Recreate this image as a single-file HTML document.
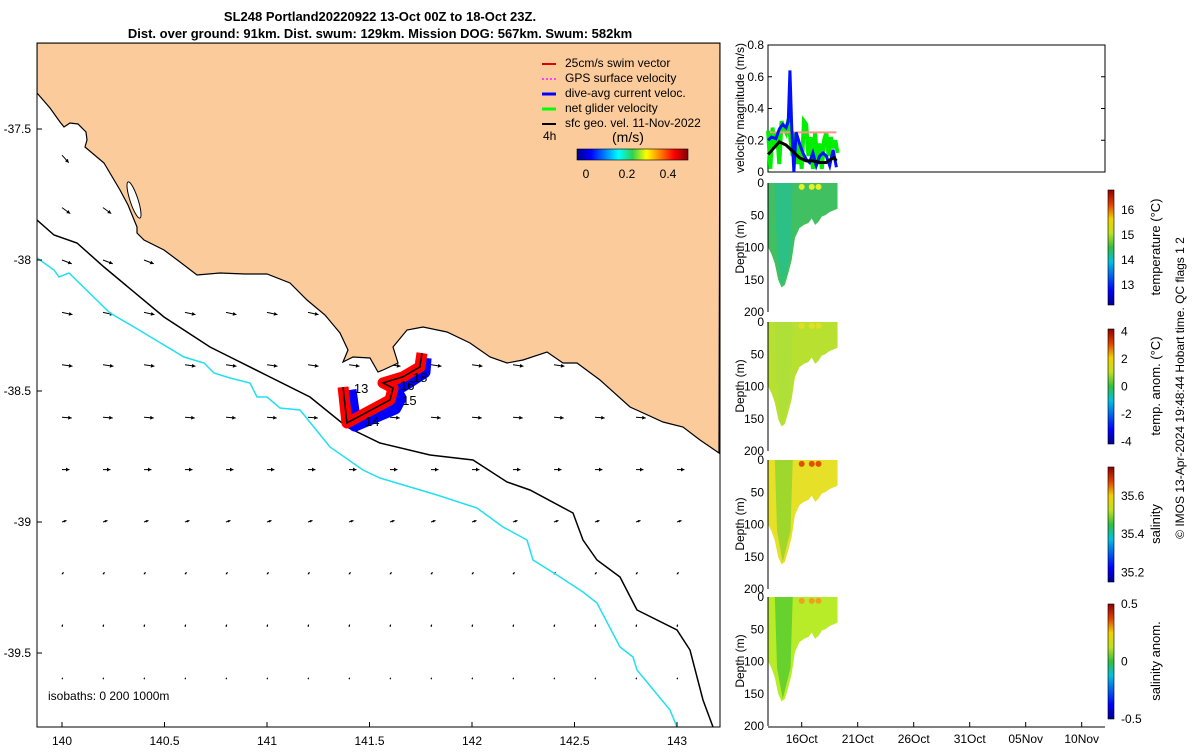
<!DOCTYPE html>
<html><head><meta charset="utf-8"><style>
body{margin:0;background:#fff;width:1200px;height:750px;overflow:hidden;font-family:"Liberation Sans",sans-serif}
svg text{font-family:"Liberation Sans",sans-serif}
</style></head><body>
<svg id="s" width="1200" height="750" xmlns="http://www.w3.org/2000/svg">
<defs>
<linearGradient id="jetH" x1="0" x2="1" y1="0" y2="0">
<stop offset="0" stop-color="#00008f"/><stop offset="0.125" stop-color="#0000ff"/><stop offset="0.375" stop-color="#00ffff"/><stop offset="0.5" stop-color="#30d050"/><stop offset="0.625" stop-color="#ffff00"/><stop offset="0.875" stop-color="#ff0000"/><stop offset="1" stop-color="#800000"/></linearGradient>
<linearGradient id="jetV" x1="0" x2="0" y1="1" y2="0">
<stop offset="0" stop-color="#00008f"/><stop offset="0.125" stop-color="#0000ff"/><stop offset="0.375" stop-color="#00c0e0"/><stop offset="0.5" stop-color="#30c040"/><stop offset="0.625" stop-color="#c0e020"/><stop offset="0.75" stop-color="#f0d000"/><stop offset="0.875" stop-color="#e04000"/><stop offset="1" stop-color="#900000"/></linearGradient>
<clipPath id="mapclip"><rect x="37" y="43" width="683" height="684"/></clipPath>
</defs>
<text x="380" y="21" font-size="13" font-weight="bold" text-anchor="middle">SL248 Portland20220922 13-Oct 00Z to 18-Oct 23Z.</text>
<text x="380" y="38" font-size="13" font-weight="bold" text-anchor="middle">Dist. over ground: 91km. Dist. swum: 129km. Mission DOG: 567km. Swum: 582km</text>
<g id="map" clip-path="url(#mapclip)">
<rect x="37" y="43" width="683" height="684" fill="#fff"/>
<g id="arrows"></g>
<path fill="#fbcb9b" stroke="#000" stroke-width="1.2" d="M37,43 L37,93 L50,108 L60,122 L64,127 L70,123 L78,124 L86,132 L87,140 L85,147 L104,163 L120,190 L128,205 L137,227 L137,233 L144,240 L164,250 L180,262 L197,275 L220,273 L245,274 L267,274 L290,283 L307,300 L325,315 L340,333 L348,350 L343,362 L353,357 L370,358 L378,372 L383,370 L398,363 L393,347 L407,330 L423,327 L447,332 L470,343 L490,357 L507,363 L523,360 L547,352 L563,363 L577,363 L600,380 L630,407 L663,422 L683,427 L700,440 L719,453 L720,43 Z"/>
<ellipse cx="134" cy="200" rx="4" ry="19" transform="rotate(-18 134 200)" fill="#fff" stroke="#000" stroke-width="1"/>
<polyline fill="none" stroke="#000" stroke-width="1.5" points="37,220 54,235 77,243 104,267 164,317 210,347 230,357 270,377 310,397 347,427 380,443 430,455 473,460 507,482 530,490 573,513 583,540 597,560 620,577 637,610 677,630 690,650 703,700 713,727"/>
<polyline fill="none" stroke="#20e0f0" stroke-width="1.5" points="37,258 54,270 59,277 69,273 110,313 134,327 184,357 204,363 214,373 230,378 250,383 257,397 267,397 280,408 300,410 330,447 363,470 380,478 437,495 477,508 503,527 527,540 533,560 557,575 583,592 597,603 620,647 633,657 637,670 670,710 677,727"/>
<g id="track"></g>
<text x="48" y="700" font-size="12">isobaths: 0   200  1000m</text>
</g>
<rect x="37" y="43" width="683" height="684" fill="none" stroke="#000" stroke-width="1"/>
<g id="maplabels" font-size="12"></g>
<g font-size="12">
<line x1="542" y1="64" x2="556" y2="64" stroke="#e00000" stroke-width="2"/><text x="565" y="67">25cm/s swim vector</text>
<line x1="542" y1="79" x2="556" y2="79" stroke="#ff40ff" stroke-width="2" stroke-dasharray="2,2"/><text x="565" y="82">GPS surface velocity</text>
<line x1="542" y1="94" x2="556" y2="94" stroke="#0000ff" stroke-width="3"/><text x="565" y="97">dive-avg current veloc.</text>
<line x1="542" y1="109" x2="556" y2="109" stroke="#00ff00" stroke-width="3"/><text x="565" y="112">net glider velocity</text>
<line x1="542" y1="124" x2="556" y2="124" stroke="#000" stroke-width="2"/><text x="565" y="127">sfc geo. vel. 11-Nov-2022</text>
<text x="543" y="140">4h</text><text x="612" y="142" font-size="14">(m/s)</text>
<rect x="577" y="149" width="111" height="11" fill="url(#jetH)" stroke="#000" stroke-width="0.6"/>
<text x="586" y="178" text-anchor="middle">0</text><text x="627" y="178" text-anchor="middle">0.2</text><text x="668" y="178" text-anchor="middle">0.4</text>
</g>
<g id="right"></g>
<text transform="translate(1184,388) rotate(-90)" font-size="12" text-anchor="middle">© IMOS 13-Apr-2024 19:48:44 Hobart time. QC flags 1  2</text>
</svg>
<script>
const NS='http://www.w3.org/2000/svg';
function mk(t,a,p){const e=document.createElementNS(NS,t);for(const k in a)e.setAttribute(k,a[k]);(p||document.getElementById('s')).appendChild(e);return e;}
// ---- map data ----
const lonTicks=[140,140.5,141,141.5,142,142.5,143];
const latTicks=[-37.5,-38,-38.5,-39,-39.5];
const arrowLons=[140,140.2,140.4,140.6,140.8,141,141.2,141.4,141.6,141.8,142,142.2,142.4,142.6,142.8,143];
const arrowLats=[-37.6,-37.8,-38,-38.2,-38.4,-38.6,-38.8,-39,-39.2,-39.4,-39.6,-39.8];
const arrowU=[0.09,0.11,0.13,0.14,0.14,0.13,0.1,0.06,0.02,0.01,0.01,0.01];
const arrowV=[-0.1,-0.08,-0.05,-0.03,-0.02,-0.01,0,0.02,0.03,0.03,0.02,0.02];
const trackRedLon=[141.756,141.746,141.663,141.566,141.615,141.600,141.390,141.371];
const trackRedLat=[-38.355,-38.408,-38.446,-38.469,-38.489,-38.534,-38.622,-38.485];
const trackBlueLon=[141.771,141.766,141.683,141.624,141.649,141.624,141.429,141.405];
const trackBlueLat=[-38.374,-38.427,-38.469,-38.496,-38.527,-38.565,-38.630,-38.496];
const dayLabels=['13','14','15','16','18'];
const dayLabelLon=[141.424,141.478,141.659,141.649,141.712];
const dayLabelLat=[-38.508,-38.634,-38.553,-38.496,-38.466];
const lonX=v=>62+(v-140)*205, latY=v=>129+(-37.5-v)*262;
const ml=document.getElementById('maplabels');
lonTicks.forEach(v=>{const t=mk('text',{x:lonX(v),y:745,'text-anchor':'middle'},ml);t.textContent=v;


mk('line',{x1:lonX(v),y1:727,x2:lonX(v),y2:722,stroke:'#000'},ml);});
latTicks.forEach(v=>{const t=mk('text',{x:31,y:latY(v)+4,'text-anchor':'end'},ml);t.textContent=v;


mk('line',{x1:37,y1:latY(v),x2:42,y2:latY(v),stroke:'#000'},ml);});
const ag=document.getElementById('arrows');
arrowLats.forEach((la,i)=>arrowLons.forEach(lo=>{
 const x=lonX(lo),y=latY(la),dx=arrowU[i]*75,dy=-arrowV[i]*75;
 const len=Math.hypot(dx,dy),hs=Math.min(4,len*0.4+1);
 const l=mk('line',{x1:x,y1:y,x2:x+dx,y2:y+dy,stroke:'#000','stroke-width':1},ag);
 
 
 const a=Math.atan2(dy,dx),hx=x+dx,hy=y+dy;
 mk('polygon',{points:`${hx},${hy} ${hx-hs*Math.cos(a-0.5)},${hy-hs*Math.sin(a-0.5)} ${hx-hs*Math.cos(a+0.5)},${hy-hs*Math.sin(a+0.5)}`,fill:'#000'},ag);
}));
const tg=document.getElementById('track');
const pr=trackRedLon.map((v,i)=>lonX(v)+','+latY(trackRedLat[i])).join(' ');
const pb=trackBlueLon.map((v,i)=>lonX(v)+','+latY(trackBlueLat[i])).join(' ');
let e=mk('polyline',{points:pb,fill:'none',stroke:'#0000ff','stroke-width':13,'stroke-linejoin':'round'},tg);


e=mk('polyline',{points:pr,fill:'none',stroke:'#ff0000','stroke-width':11,'stroke-linejoin':'round'},tg);


e=mk('polyline',{points:pr,fill:'none',stroke:'#000','stroke-width':1.5},tg);


dayLabels.forEach((d,i)=>{const t=mk('text',{x:lonX(dayLabelLon[i]),y:latY(dayLabelLat[i]),'font-size':13},tg);t.textContent=d;

});
// ---- right panels ----
const R=document.getElementById('right');
const dayX=d=>801.7+(d-16)*11.2;
const timeTicks=[16,21,26,31,36,41];
const timeTickLabels=['16Oct','21Oct','26Oct','31Oct','05Nov','10Nov'];
const velTicks=[0,0.2,0.4,0.6,0.8];
const blackDays=[13.0,13.5,14.0,14.6,15.2,15.8,16.4,17.0,17.6,18.2,18.6,18.9,19.1];
const blackVals=[0.11,0.15,0.19,0.17,0.13,0.09,0.07,0.07,0.06,0.06,0.08,0.09,0.07];
const blueDays=[13.0,13.3,13.7,14.0,14.3,14.6,14.8,14.95,15.1,15.3,15.5,15.8,16.1,16.4,16.7,17.0,17.3,17.6,17.9,18.2,18.5,18.8,19.1];
const blueVals=[0.2,0.22,0.21,0.27,0.3,0.28,0.32,0.64,0.3,0.0,0.25,0.18,0.12,0.08,0.06,0.12,0.04,0.1,0.12,0.1,0.04,0.14,0.03];
const greenDays=[13.0,13.2,13.4,13.6,13.8,14.0,14.2,14.4,14.6,14.8,15.0,15.2,15.4,15.6,15.8,16.0,16.2,16.4,16.6,16.8,17.0,17.2,17.4,17.6,17.8,18.0,18.2,18.4,18.6,18.8,19.0,19.2];
const greenVals=[0.26,0.02,0.28,0.15,0.25,0.05,0.32,0.28,0.25,0.33,0.2,0.1,0.25,0.05,0.18,0.02,0.32,0.3,0.1,0.22,0.02,0.25,0.05,0.18,0.02,0.2,0.25,0.1,0.22,0.15,0.2,0.12];
const redDays=[13.2,19.1];
const redVals=[0.25,0.25];
const vy=v=>172-v/0.8*127;
mk('rect',{x:768,y:45,width:337,height:127,fill:'#fff',stroke:'#000','stroke-width':1},R);
velTicks.forEach(v=>{const t=mk('text',{x:764,y:vy(v)+4,'text-anchor':'end','font-size':12},R);t.textContent=v;


mk('line',{x1:768,y1:vy(v),x2:772,y2:vy(v),stroke:'#000'},R);mk('line',{x1:1105,y1:vy(v),x2:1101,y2:vy(v),stroke:'#000'},R);});
let t=mk('text',{transform:'translate(744,108) rotate(-90)','text-anchor':'middle','font-size':12},R);t.textContent='velocity magnitude (m/s)';
function line(days,vals,col,w,name){const p=mk('polyline',{points:days.map((d,i)=>dayX(d)+','+vy(vals[i])).join(' '),fill:'none',stroke:col,'stroke-width':w},R);

}
line(greenDays,greenVals,'#00ee00',4,'net-glider-velocity-series');
line(redDays,redVals,'#ff9090',2,'swim-speed-series');
line(blueDays,blueVals,'#0010ff',3,'dive-avg-current-series');
line(blackDays,blackVals,'#000',3,'geostrophic-velocity-series');
// sections
const secDays=[13.0,13.3,13.6,13.9,14.2,14.5,14.8,15.1,15.4,15.8,16.2,16.6,16.9,17.2,17.5,17.8,18.1,18.5,19.2];
const secDepth=[100,110,125,150,162,158,140,120,85,70,65,62,55,65,60,52,50,45,40];
const depthTicks=[0,50,100,150,200];
const panels=[
 {top:183,name:'temperature',fill:'#40c060',fill2:'#20c0a0',spots:'#e8f020',cbTicks:[13,14,15,16],cbMin:12.2,cbMax:16.8,label:'temperature (°C)'},
 {top:322,name:'temp-anomaly',fill:'#b8e030',fill2:'#a8e040',spots:'#e0e020',cbTicks:[-4,-2,0,2,4],cbMin:-4.2,cbMax:4.2,label:'temp. anom. (°C)'},
 {top:460,name:'salinity',fill:'#e6e028',fill2:'#70d030',spots:'#e05000',cbTicks:[35.2,35.4,35.6],cbMin:35.15,cbMax:35.75,label:'salinity'},
 {top:597,name:'salinity-anomaly',fill:'#b8ec28',fill2:'#30c030',spots:'#f0a020',cbTicks:[-0.5,0,0.5],cbMin:-0.5,cbMax:0.5,label:'salinity anom.'}];
panels.forEach((P,k)=>{
 const h=129,dy=d=>P.top+d/200*h;
 const g=mk('g',{},R);
 let pts=secDays.map(d=>dayX(d)+','+P.top).join(' ')+' '+secDays.slice().reverse().map((d,i)=>dayX(d)+','+dy(secDepth[secDepth.length-1-i])).join(' ');
 mk('polygon',{points:pts,fill:P.fill},g);
 mk('polygon',{points:`${dayX(13.6)},${P.top} ${dayX(15.2)},${P.top} ${dayX(15.0)},${dy(110)} ${dayX(14.3)},${dy(158)} ${dayX(13.8)},${dy(110)}`,fill:P.fill2,opacity:0.6},g);
 [16.0,16.9,17.5].forEach(d=>mk('circle',{cx:dayX(d),cy:dy(6),r:3,fill:P.spots},g));
 mk('line',{x1:768,y1:P.top,x2:768,y2:P.top+h,stroke:'#000'},R);
 depthTicks.forEach(d=>{const tt=mk('text',{x:764,y:dy(d)+4,'text-anchor':'end','font-size':12},R);tt.textContent=d;
 
 });
 const yl=mk('text',{transform:`translate(744,${P.top+64}) rotate(-90)`,'text-anchor':'middle','font-size':12},R);yl.textContent='Depth (m)';
 const cbt=P.top+7,cbh=h-14;
 const cb=mk('rect',{x:1108,y:cbt,width:6,height:cbh,fill:'url(#jetV)',stroke:'#000','stroke-width':0.6},R);
 
 
 P.cbTicks.forEach(v=>{const yy=cbt+cbh*(P.cbMax-v)/(P.cbMax-P.cbMin);const tt=mk('text',{x:1121,y:yy+4,'font-size':12},R);tt.textContent=v;
 
 });
 const cl=mk('text',{transform:`translate(1160,${P.top+64}) rotate(-90)`,'text-anchor':'middle','font-size':13},R);cl.textContent=P.label;
});
mk('line',{x1:768,y1:727,x2:1105,y2:727,stroke:'#000'},R);
timeTicks.forEach((d,i)=>{mk('line',{x1:dayX(d),y1:727,x2:dayX(d),y2:722,stroke:'#000'},R);
const tt=mk('text',{x:dayX(d),y:743,'text-anchor':'middle','font-size':12},R);tt.textContent=timeTickLabels[i];

});
</script>
</body></html>
